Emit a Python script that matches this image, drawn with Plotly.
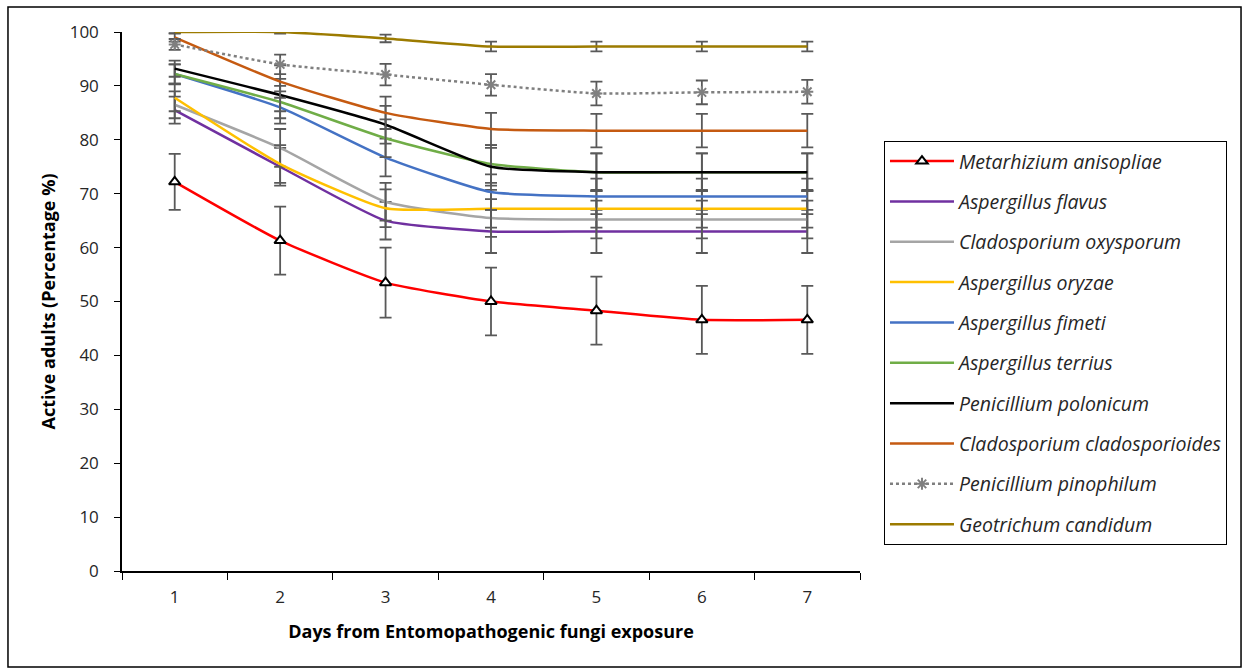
import plotly.graph_objects as go

days = ["1", "2", "3", "4", "5", "6", "7"]

metarhizium = [72.2, 61.3, 53.5, 50.0, 48.3, 46.6, 46.6]
metarhizium_err = [5.2, 6.3, 6.5, 6.3, 6.3, 6.3, 6.3]
flavus = [85.5, 75.0, 65.0, 63.0, 63.0, 63.0, 63.0]
flavus_err = [2.5, 3.5, 3.5, 4.0, 4.0, 4.0, 4.0]
oxysporum = [86.5, 78.5, 68.5, 65.5, 65.2, 65.2, 65.2]
oxysporum_err = [2.5, 3.5, 3.5, 3.5, 3.5, 3.5, 3.5]
oryzae = [87.8, 75.5, 67.3, 67.2, 67.2, 67.2, 67.2]
oryzae_err = [2.5, 3.5, 3.5, 3.5, 3.5, 3.5, 3.5]
fimeti = [92.2, 86.0, 76.7, 70.3, 69.5, 69.5, 69.5]
fimeti_err = [1.8, 3.0, 3.5, 3.3, 3.3, 3.3, 3.3]
terrius = [92.2, 87.0, 80.3, 75.5, 74.0, 74.0, 74.0]
terrius_err = [1.8, 3.0, 3.5, 3.5, 3.5, 3.5, 3.5]
polonicum = [93.2, 88.3, 82.8, 75.0, 74.0, 74.0, 74.0]
polonicum_err = [1.5, 3.0, 3.5, 3.5, 3.5, 3.5, 3.5]
cladosporioides = [99.0, 90.8, 85.0, 82.0, 81.7, 81.7, 81.7]
cladosporioides_err = [0.8, 3.0, 3.0, 3.0, 3.1, 3.1, 3.1]
pinophilum = [97.7, 94.0, 92.1, 90.2, 88.6, 88.8, 88.9]
pinophilum_err = [1.0, 1.8, 2.0, 2.0, 2.2, 2.2, 2.2]
geotrichum = [100.0, 100.0, 98.8, 97.3, 97.3, 97.3, 97.3]
geotrichum_err = [0.3, 0.3, 0.7, 0.9, 0.9, 0.9, 0.9]

series = [
    ("Metarhizium anisopliae", metarhizium, metarhizium_err, "#FF0000", "solid", "triangle-up"),
    ("Aspergillus flavus", flavus, flavus_err, "#7030A0", "solid", None),
    ("Cladosporium oxysporum", oxysporum, oxysporum_err, "#A5A5A5", "solid", None),
    ("Aspergillus oryzae", oryzae, oryzae_err, "#FFC000", "solid", None),
    ("Aspergillus fimeti", fimeti, fimeti_err, "#4472C4", "solid", None),
    ("Aspergillus terrius", terrius, terrius_err, "#70AD47", "solid", None),
    ("Penicillium polonicum", polonicum, polonicum_err, "#000000", "solid", None),
    ("Cladosporium cladosporioides", cladosporioides, cladosporioides_err, "#C55A11", "solid", None),
    ("Penicillium pinophilum", pinophilum, pinophilum_err, "#7F7F7F", "dot", "asterisk-open"),
    ("Geotrichum candidum", geotrichum, geotrichum_err, "#9C7B00", "solid", None),
]

FONT = "Open Sans"
fig = go.Figure()
for i, (name, vals, err, color, dash, sym) in enumerate(series):
    if sym == "triangle-up":
        marker = dict(symbol="triangle-up", size=10, color="white",
                      line=dict(color="black", width=2))
        mode = "lines+markers"
    elif sym:
        marker = dict(symbol=sym, size=10, color="#7F7F7F",
                      line=dict(color="#7F7F7F", width=2))
        mode = "lines+markers"
    else:
        marker = None
        mode = "lines"
    fig.add_trace(go.Scatter(
        x=days, y=vals, name=name, mode=mode,
        line=dict(color=color, width=2.5, dash=dash, shape="spline", smoothing=0.5),
        marker=marker,
        legendgroup=f"g{i}",
        error_y=dict(type="data", array=err, visible=True, color="#595959",
                     thickness=1.8, width=6),
    ))

fig.update_layout(
    width=1247, height=670,
    margin=dict(l=122, r=387, t=32, b=99),
    paper_bgcolor="white", plot_bgcolor="white",
    font=dict(family=FONT, size=17, color="#262626"),
    showlegend=True,
    legend=dict(
        x=1.0325, y=0.798, xanchor="left", yanchor="top",
        bordercolor="black", borderwidth=1,
        font=dict(family=FONT, size=19.5, color="#262626", style="italic"),
        tracegroupgap=12, itemwidth=64,
    ),
    xaxis=dict(
        type="category", range=[-0.5, 6.5], tickson="boundaries",
        ticks="outside", ticklen=7,
        tickcolor="black", showline=True, linecolor="black", linewidth=1.5,
        showgrid=False, zeroline=False, ticklabelstandoff=10,
        title=dict(text="<b>Days from Entomopathogenic fungi exposure</b>",
                   font=dict(family=FONT, size=18, color="black"), standoff=18),
    ),
    yaxis=dict(
        range=[0, 100], dtick=10, ticks="outside", ticklen=6, tickcolor="black",
        showline=True, linecolor="black", linewidth=1.5, showgrid=False,
        zeroline=False, ticklabelstandoff=12,
        title=dict(text="<b>Active adults (Percentage %)</b>",
                   font=dict(family=FONT, size=18, color="black"), standoff=9),
    ),
    shapes=[dict(type="rect", xref="paper", yref="paper",
                 x0=-0.1545, x1=1.5163, y0=-0.178, y1=1.0464,
                 line=dict(color="black", width=1.5))],
)

fig.write_html("out.html")
